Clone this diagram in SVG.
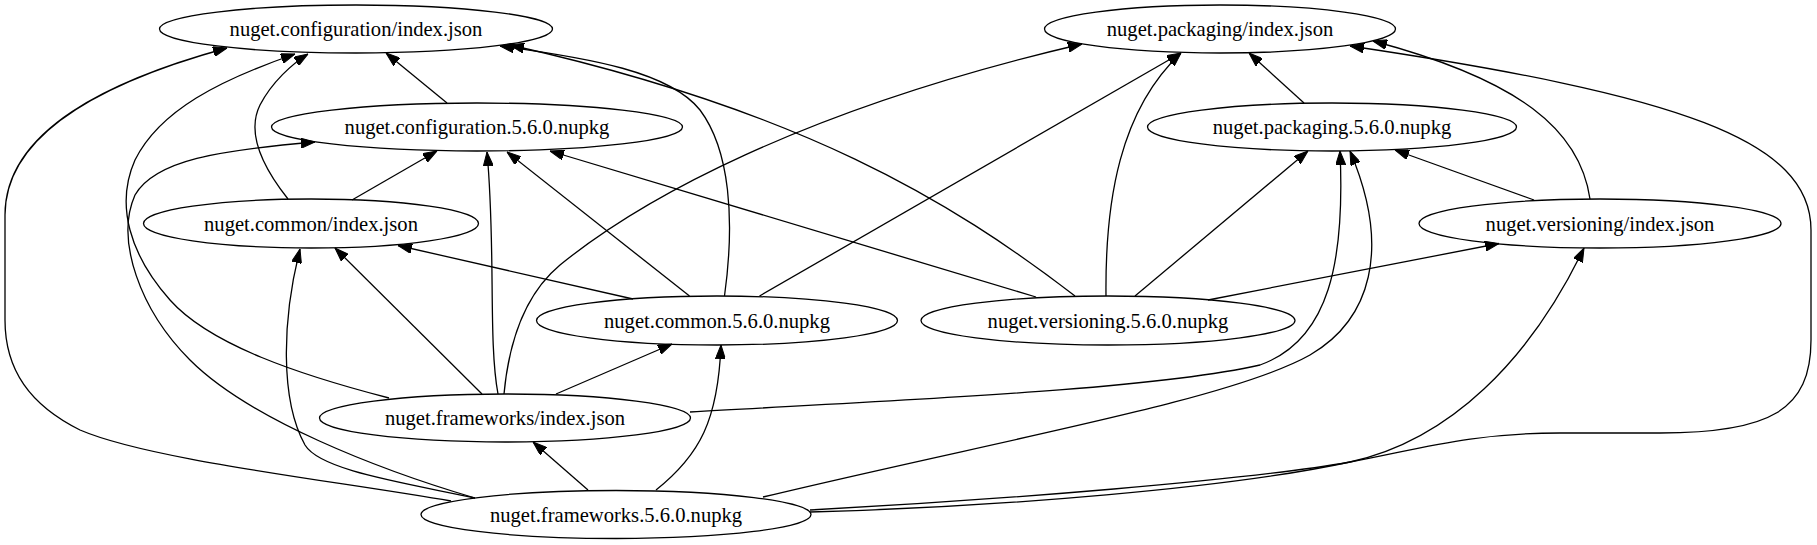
<svg xmlns="http://www.w3.org/2000/svg" width="1817" height="545" viewBox="0 0 1817 545">
<style>
.node ellipse{fill:none;stroke:#000;stroke-width:1.3}
.node text{font-family:"Liberation Serif","Times New Roman",serif;font-size:20.6px;text-anchor:middle;fill:#000}
.edges path{fill:none;stroke:#000;stroke-width:1.3;marker-end:url(#arr)}
</style>
<defs>
<marker id="arr" markerUnits="userSpaceOnUse" viewBox="0 0 14 10" refX="14" refY="5" markerWidth="14" markerHeight="10" orient="auto">
<path d="M0,0 L14,5 L0,10 z" fill="#000" stroke="#000" stroke-width="1"/>
</marker>
</defs>
<rect width="1817" height="545" fill="#fff"/>
<g id="edges" class="edges">
<path d="M451,501 C330,480 150,460 80,430 C30,405 5,370 5,320 L5,215 C5,130 110,80 227,48"/>
<path d="M389,398 C300,375 210,345 170,300 C130,255 115,205 135,160 C160,110 220,80 295,54"/>
<path d="M288,199 C265,170 245,135 260,105 C272,82 292,64 308,54"/>
<path d="M447,103 L386,53"/>
<path d="M724.5,296 C735,220 730,150 700,110 C670,72 590,58 500,46"/>
<path d="M1075,296 C950,200 800,110 510,45"/>
<path d="M475,498 C380,470 250,420 190,360 C140,310 115,240 135,195 C155,160 220,150 315,142"/>
<path d="M352,200 L437,151"/>
<path d="M498,394 C488,340 496,250 487,152"/>
<path d="M689.5,296 L507,152"/>
<path d="M1036,297 L550,151"/>
<path d="M475,498 C400,482 320,470 305,445 C280,400 282,320 300,249"/>
<path d="M482,394 L335,248"/>
<path d="M633,299 L398,245.5"/>
<path d="M504,394 C510,330 530,290 560,265 C640,200 800,110 1082,44"/>
<path d="M759.5,296 L1181,53"/>
<path d="M1106,296 C1105,200 1120,110 1181,53"/>
<path d="M1304,103 L1249,53"/>
<path d="M810,510 C1000,500 1250,480 1350,462 C1420,449 1470,433 1560,433 L1660,433 C1770,433 1811,410 1811,340 L1811,230 C1811,140 1680,95 1350,46"/>
<path d="M1590,199 C1580,130 1520,80 1373,41"/>
<path d="M1135,296 L1308,151"/>
<path d="M690,412 C900,400 1150,390 1260,365 C1330,340 1345,260 1340,151"/>
<path d="M763,497 C1000,440 1230,400 1310,355 C1370,320 1392,250 1350,151"/>
<path d="M1534,200 L1395,150"/>
<path d="M1208,300 L1499,243.5"/>
<path d="M810,512 C1000,507 1230,488 1350,462 C1450,440 1530,360 1584,248"/>
<path d="M556,394 L672,344"/>
<path d="M656,490 C700,455 718,420 721,345"/>
<path d="M588,490 L533,442"/>
</g>
<g id="n_cfg_idx" class="node"><ellipse cx="356" cy="29" rx="196.5" ry="24"/><text x="356" y="36">nuget.configuration/index.json</text></g>
<g id="n_cfg_pkg" class="node"><ellipse cx="477" cy="127" rx="205.5" ry="24"/><text x="477" y="134">nuget.configuration.5.6.0.nupkg</text></g>
<g id="n_com_idx" class="node"><ellipse cx="311" cy="223.5" rx="167.5" ry="24.5"/><text x="311" y="230.5">nuget.common/index.json</text></g>
<g id="n_pkg_idx" class="node"><ellipse cx="1220" cy="29" rx="175.5" ry="24"/><text x="1220" y="36">nuget.packaging/index.json</text></g>
<g id="n_pkg_pkg" class="node"><ellipse cx="1332" cy="127" rx="184.5" ry="24"/><text x="1332" y="134">nuget.packaging.5.6.0.nupkg</text></g>
<g id="n_ver_idx" class="node"><ellipse cx="1600" cy="223.5" rx="181" ry="24.5"/><text x="1600" y="230.5">nuget.versioning/index.json</text></g>
<g id="n_com_pkg" class="node"><ellipse cx="717" cy="320.5" rx="180.5" ry="24.5"/><text x="717" y="327.5">nuget.common.5.6.0.nupkg</text></g>
<g id="n_ver_pkg" class="node"><ellipse cx="1108" cy="320.5" rx="187" ry="24.5"/><text x="1108" y="327.5">nuget.versioning.5.6.0.nupkg</text></g>
<g id="n_fw_idx" class="node"><ellipse cx="505" cy="418" rx="185.5" ry="24"/><text x="505" y="425">nuget.frameworks/index.json</text></g>
<g id="n_fw_pkg" class="node"><ellipse cx="616" cy="514.5" rx="195" ry="24"/><text x="616" y="521.5">nuget.frameworks.5.6.0.nupkg</text></g>
</svg>
